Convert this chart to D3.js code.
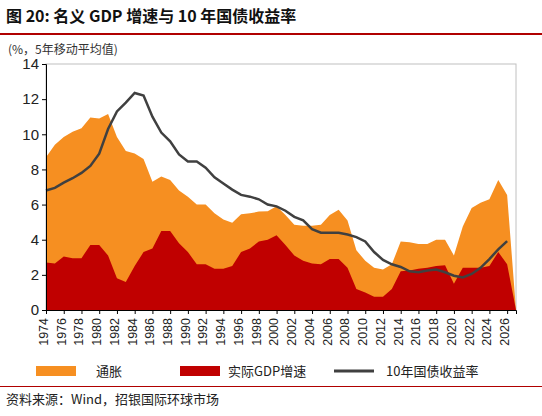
<!DOCTYPE html><html><head><meta charset="utf-8"><script src="https://cdn.jsdelivr.net/npm/d3@7"></script>
<style>body{margin:0;background:#fff;font-family:"Noto Sans CJK SC","Liberation Sans",sans-serif}</style></head><body><svg id="c" width="542" height="416"></svg><script>
const years=d3.range(1974,2028);
const nominal=[8.7,9.4,9.85,10.15,10.35,10.95,10.9,11.15,9.85,9.05,8.9,8.6,7.3,7.6,7.4,6.8,6.45,6.0,6.0,5.5,5.15,4.97,5.45,5.5,5.6,5.62,5.9,5.4,4.85,4.8,4.8,4.85,5.4,5.7,5.1,3.4,2.8,2.4,2.3,2.6,3.9,3.85,3.75,3.75,4.0,4.0,3.1,4.75,5.8,6.1,6.3,7.4,6.55,0];
const real=[2.7,2.65,3.05,2.95,2.95,3.7,3.7,3.1,1.8,1.6,2.5,3.3,3.5,4.5,4.5,3.8,3.3,2.6,2.6,2.35,2.35,2.5,3.3,3.5,3.9,4.0,4.25,3.7,3.1,2.8,2.65,2.6,2.9,2.9,2.4,1.2,1.0,0.75,0.75,1.2,2.2,2.25,2.35,2.4,2.5,2.55,1.5,2.4,2.4,2.4,2.5,3.3,2.6,0];
const bond=[6.8,6.95,7.25,7.5,7.8,8.2,8.9,10.3,11.3,11.8,12.35,12.2,11.0,10.1,9.6,8.85,8.45,8.45,8.1,7.55,7.2,6.85,6.55,6.45,6.3,6.0,5.9,5.65,5.3,5.1,4.6,4.4,4.4,4.4,4.3,4.15,3.9,3.3,2.85,2.6,2.45,2.2,2.15,2.25,2.3,2.15,1.95,1.85,2.05,2.4,2.9,3.45,3.92];
const yTicks=[0,2,4,6,8,10,12,14];
const svg=d3.select("#c");
const x=d3.scaleLinear().domain([1974,2027]).range([46,516]);
const y=d3.scaleLinear().domain([0,14]).range([310,64]);
svg.append("text").attr("x",6).attr("y",22).attr("font-size",16).attr("font-weight","bold").attr("fill","#111").text("图 20: 名义 GDP 增速与 10 年国债收益率");
svg.append("rect").attr("x",0).attr("y",33).attr("width",542).attr("height",2).attr("fill","#b00000");
svg.append("rect").attr("x",46).attr("y",64).attr("width",470).attr("height",246).attr("fill","none").attr("stroke","#c0c0c0");
const area=v=>d3.area().x((d,i)=>x(years[i])).y0(y(0)).y1(d=>y(d))(v);
svg.append("path").attr("d",area(nominal)).attr("fill","#f68f21");
svg.append("path").attr("d",area(real)).attr("fill","#c00000");
svg.append("path").attr("d",d3.line().x((d,i)=>x(years[i])).y(d=>y(d))(bond)).attr("fill","none").attr("stroke","#404040").attr("stroke-width",2.5);
const ya=svg.append("g").attr("transform","translate(46,0)").call(d3.axisLeft(y).tickValues(yTicks).tickSize(4));
ya.selectAll("text").attr("font-size",15).attr("font-family","Liberation Sans").attr("fill","#222");
const xt=d3.range(1974,2027,2);
const xa=svg.append("g").attr("transform","translate(0,310)").call(d3.axisBottom(x).tickValues(xt).tickFormat(d3.format("d")).tickSize(4));
xa.selectAll("text").attr("font-size",12.5).attr("font-family","Liberation Sans").attr("fill","#222").attr("text-anchor","end").attr("transform","translate(-10,8) rotate(-90)").attr("dy","0.35em").attr("dx","0");
svg.selectAll(".domain").attr("stroke","#000");
svg.append("text").attr("x",8).attr("y",54).attr("font-size",12).attr("fill","#333").text("(%，5年移动平均值)");
const lg=svg.append("g").attr("font-size",13).attr("fill","#222");
lg.append("rect").attr("x",36).attr("y",366).attr("width",40).attr("height",10).attr("fill","#f68f21");
lg.append("text").attr("x",96).attr("y",376).text("通胀");
lg.append("rect").attr("x",180).attr("y",366).attr("width",40).attr("height",10).attr("fill","#c00000");
lg.append("text").attr("x",228).attr("y",376).text("实际GDP增速");
lg.append("line").attr("x1",334).attr("x2",374).attr("y1",371).attr("y2",371).attr("stroke","#404040").attr("stroke-width",3);
lg.append("text").attr("x",386).attr("y",376).text("10年国债收益率");
svg.append("rect").attr("x",0).attr("y",386).attr("width",542).attr("height",1).attr("fill","#b00000");
svg.append("text").attr("x",6).attr("y",404).attr("font-size",13).attr("fill","#222").text("资料来源：Wind，招银国际环球市场");
</script></body></html>
